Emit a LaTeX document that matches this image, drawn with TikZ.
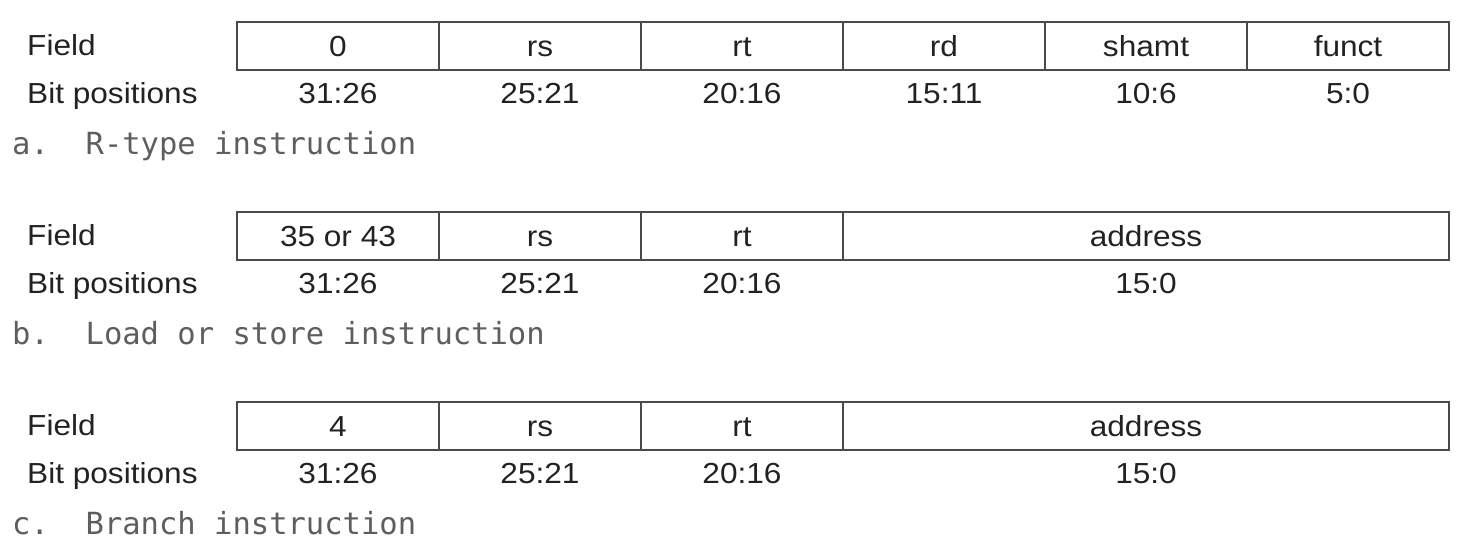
\documentclass[tikz,border=0pt]{standalone}
\usepackage{fontspec}
\setmainfont[FakeStretch=1.09]{Liberation Sans}
\newfontfamily\capfont{DejaVu Sans Mono}
\definecolor{ink}{HTML}{222222}
\definecolor{rulec}{HTML}{4A4A4A}
\definecolor{capgray}{HTML}{5E5E5E}
\begin{document}
\begin{tikzpicture}[x=1pt,y=-1pt,
  cell/.style={draw=rulec, line width=1.3pt, minimum width=202pt, minimum height=48pt,
    inner sep=0pt, text=ink, font=\fontsize{29}{34}\selectfont, text height=20.5pt, text depth=0pt},
  widecell/.style={cell, minimum width=606pt},
  lbl/.style={anchor=base west, inner sep=0pt, text=ink, font=\fontsize{29}{34}\selectfont},
  bits/.style={anchor=base, inner sep=0pt, text=ink, font=\fontsize{29}{34}\selectfont},
  captxt/.style={anchor=base west, inner sep=0pt, text=capgray, font=\capfont\fontsize{30.5}{36}\selectfont}]
\useasboundingbox (0,0) rectangle (1459,547);

% ---- a. R-type ----
\node[lbl] (fa) at (27,55) {Field};
\node[lbl] (pa) at (27,103) {Bit positions};
\node[cell] (a0) at (338,46) {0};
\node[cell] (a1) at (540,46) {rs};
\node[cell] (a2) at (742,46) {rt};
\node[cell] (a3) at (944,46) {rd};
\node[cell] (a4) at (1146,46) {shamt};
\node[cell] (a5) at (1348,46) {funct};
\node[bits] (ba0) at (338,103) {31:26};
\node[bits] (ba1) at (540,103) {25:21};
\node[bits] (ba2) at (742,103) {20:16};
\node[bits] (ba3) at (944,103) {15:11};
\node[bits] (ba4) at (1146,103) {10:6};
\node[bits] (ba5) at (1348,103) {5:0};
\node[captxt] (ca) at (12,154) {a.\ \ R-type instruction};

% ---- b. Load or store ----
\node[lbl] (fb) at (27,245) {Field};
\node[lbl] (pb) at (27,293) {Bit positions};
\node[cell] (b0) at (338,236) {35 or 43};
\node[cell] (b1) at (540,236) {rs};
\node[cell] (b2) at (742,236) {rt};
\node[widecell] (b3) at (1146,236) {address};
\node[bits] (bb0) at (338,293) {31:26};
\node[bits] (bb1) at (540,293) {25:21};
\node[bits] (bb2) at (742,293) {20:16};
\node[bits] (bb3) at (1146,293) {15:0};
\node[captxt] (cb) at (12,344) {b.\ \ Load or store instruction};

% ---- c. Branch ----
\node[lbl] (fc) at (27,435) {Field};
\node[lbl] (pc) at (27,483) {Bit positions};
\node[cell] (c0) at (338,426) {4};
\node[cell] (c1) at (540,426) {rs};
\node[cell] (c2) at (742,426) {rt};
\node[widecell] (c3) at (1146,426) {address};
\node[bits] (bc0) at (338,483) {31:26};
\node[bits] (bc1) at (540,483) {25:21};
\node[bits] (bc2) at (742,483) {20:16};
\node[bits] (bc3) at (1146,483) {15:0};
\node[captxt] (cc) at (12,534) {c.\ \ Branch instruction};
\end{tikzpicture}
\end{document}
